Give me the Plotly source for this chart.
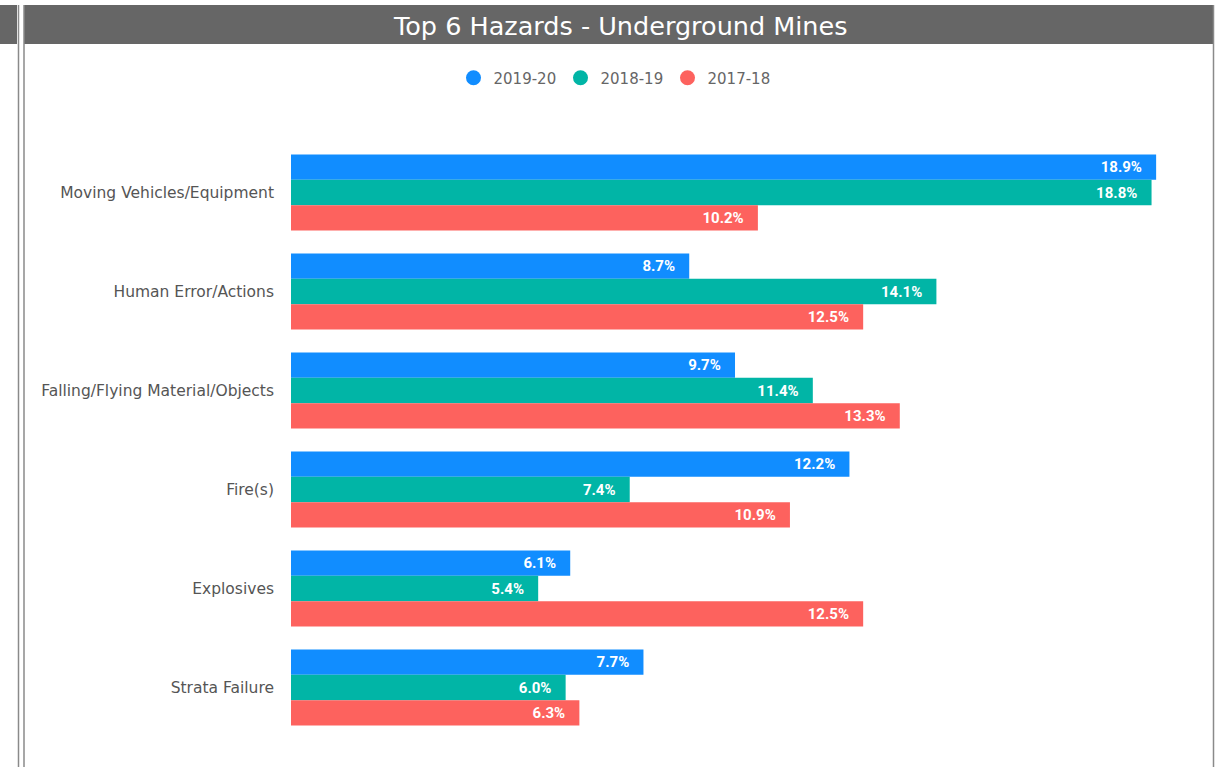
import plotly.graph_objects as go

# Hazard categories (top to bottom) and share of incidents per year (%)
categories = [
    "Moving Vehicles/Equipment",
    "Human Error/Actions",
    "Falling/Flying Material/Objects",
    "Fire(s)",
    "Explosives",
    "Strata Failure",
]
years = ["2019-20", "2018-19", "2017-18"]
share_2019_20 = [18.9, 8.7, 9.7, 12.2, 6.1, 7.7]
share_2018_19 = [18.8, 14.1, 11.4, 7.4, 5.4, 6.0]
share_2017_18 = [10.2, 12.5, 13.3, 10.9, 12.5, 6.3]
colors = ["#118DFF", "#01B5A6", "#FD625E"]
title_text = "Top 6 Hazards - Underground Mines"

W, H = 1223, 767
ML, MR, MT, MB = 291, 33, 143, 30
PW, PH = W - ML - MR, H - MT - MB


def px_x(px):
    return (px - ML) / PW


def px_y(py):
    return (H - MB - py) / PH


fig = go.Figure()

series = [share_2019_20, share_2018_19, share_2017_18]
for name, vals, col in zip(years, series, colors):
    fig.add_trace(go.Bar(
        name=name,
        y=categories,
        x=vals,
        orientation="h",
        marker=dict(color=col, line=dict(width=0)),
        texttemplate="%{x:.1f}%" + "\u00a0" * 3,
        textposition="inside",
        insidetextanchor="end",
        insidetextfont=dict(family="Roboto", size=15,
                            color="white", weight="bold"),
        showlegend=False,
        hoverinfo="skip",
    ))

# circular legend markers
for name, col in zip(years, colors):
    fig.add_trace(go.Scatter(
        x=[None], y=[None], mode="markers", name=name,
        marker=dict(symbol="circle", size=15, color=col),
    ))

shapes = [
    # title bars
    dict(type="rect", xref="paper", yref="paper",
         x0=px_x(24), x1=px_x(1214), y0=px_y(44), y1=px_y(5),
         fillcolor="#666666", line=dict(width=0), layer="below"),
    dict(type="rect", xref="paper", yref="paper",
         x0=px_x(0), x1=px_x(17), y0=px_y(44), y1=px_y(5),
         fillcolor="#666666", line=dict(width=0), layer="below"),
    # panel borders
    dict(type="line", xref="paper", yref="paper",
         x0=px_x(18.5), x1=px_x(18.5), y0=px_y(767), y1=px_y(5),
         line=dict(color="#8a8a8a", width=1.5)),
    dict(type="line", xref="paper", yref="paper",
         x0=px_x(24), x1=px_x(24), y0=px_y(767), y1=px_y(5),
         line=dict(color="#8a8a8a", width=1.5)),
    dict(type="line", xref="paper", yref="paper",
         x0=px_x(1213.5), x1=px_x(1213.5), y0=px_y(767), y1=px_y(5),
         line=dict(color="#8a8a8a", width=1.5)),
]

fig.update_layout(
    width=W, height=H,
    margin=dict(l=ML, r=MR, t=MT, b=MB, autoexpand=False),
    paper_bgcolor="white",
    plot_bgcolor="white",
    barmode="group",
    bargap=0.232,
    bargroupgap=0.0,
    shapes=shapes,
    annotations=[dict(
        text=title_text, xref="paper", yref="paper",
        x=px_x(620), y=px_y(26), xanchor="center", yanchor="middle",
        showarrow=False,
        font=dict(family="DejaVu Sans", size=25.5, color="white"),
    )],
    legend=dict(
        orientation="h",
        x=px_x(614), y=px_y(78), xanchor="center", yanchor="middle",
        font=dict(family="DejaVu Sans", size=15, color="#666666"),
        itemwidth=30,
        entrywidth=62,
        bgcolor="rgba(0,0,0,0)",
    ),
    xaxis=dict(range=[0, 19.64], visible=False, fixedrange=True),
    yaxis=dict(
        autorange="reversed",
        showgrid=False, zeroline=False, showline=False,
        ticks="",
        ticklabelstandoff=16,
        tickfont=dict(family="DejaVu Sans", size=15.5, color="#555555"),
    ),
)

fig.write_html("out.html", config={"displayModeBar": False})
